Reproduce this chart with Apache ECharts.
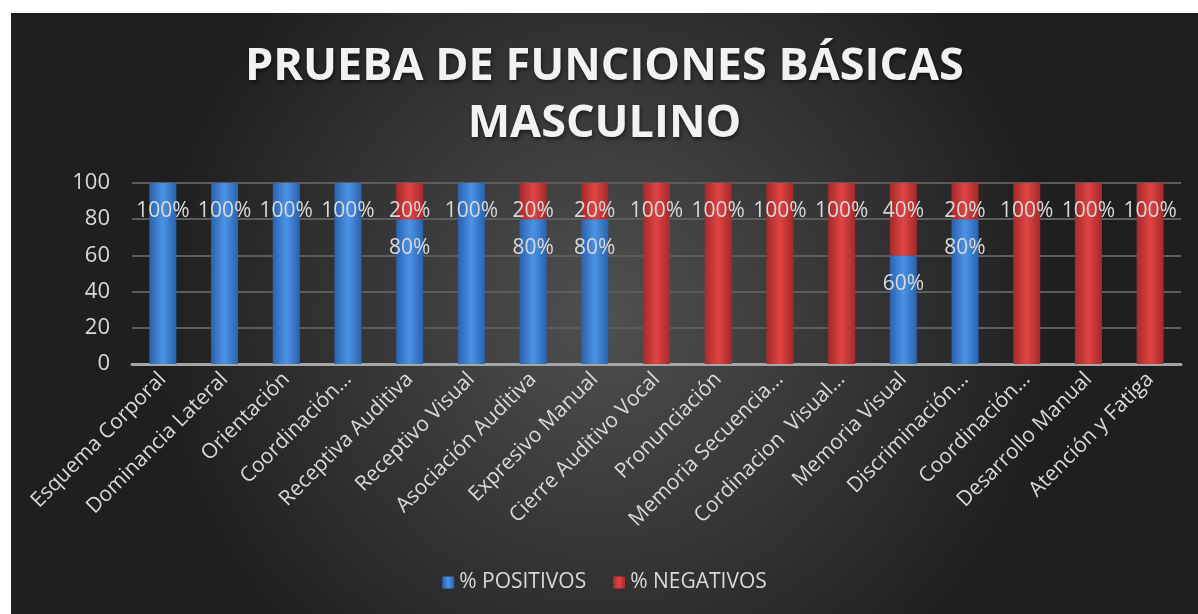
<!DOCTYPE html>
<html lang="es">
<head>
    <meta charset="UTF-8">
    <title>Prueba de funciones básicas</title>
    <script src="https://cdn.jsdelivr.net/npm/echarts@6/dist/echarts.min.js"></script>
    <style>
        body { margin: 0; background: #fff; }
        #main { position: absolute; left: 11px; top: 13px; width: 1187px; height: 601px; }
    </style>
</head>
<body>
<div id="main"></div>
<script type="text/javascript">

    var categorias = ['Esquema Corporal', 'Dominancia Lateral', 'Orientación', 'Coordinación…',
        'Receptiva Auditiva', 'Receptivo Visual', 'Asociación Auditiva', 'Expresivo Manual',
        'Cierre Auditivo Vocal', 'Pronunciación', 'Memoria Secuencia…', 'Cordinacion  Visual…',
        'Memoria Visual', 'Discriminación…', 'Coordinación…', 'Desarrollo Manual', 'Atención y Fatiga'];
    var positivos = [100, 100, 100, 100, 80, 100, 80, 80, 0, 0, 0, 0, 60, 80, 0, 0, 0];
    var negativos = [0, 0, 0, 0, 20, 0, 20, 20, 100, 100, 100, 100, 40, 20, 100, 100, 100];
    var ticksY = [0, 20, 40, 60, 80, 100];

    var fuente = '"Open Sans", sans-serif';

    function barra(c1, c2) {
        return new echarts.graphic.LinearGradient(0, 0, 1, 0, [
            {offset: 0, color: c1},
            {offset: 0.5, color: c2},
            {offset: 1, color: c1}
        ]);
    }

    function etiqueta(p) {
        return p.value ? p.value + '%' : '';
    }

    var myChart = echarts.init(document.getElementById('main'));
    var option = {
        backgroundColor: new echarts.graphic.RadialGradient(0.5, 0.5, 0.75, [
            {offset: 0, color: '#505050'},
            {offset: 1, color: '#1f1f1f'}
        ]),
        title: {
            text: 'PRUEBA DE FUNCIONES BÁSICAS\nMASCULINO',
            left: 'center',
            top: 21,
            textStyle: {
                color: '#f2f2f2',
                fontFamily: fuente,
                fontWeight: 'bold',
                fontSize: 45,
                lineHeight: 57,
                textShadowColor: 'rgba(0,0,0,0.6)',
                textShadowBlur: 4,
                textShadowOffsetX: 1,
                textShadowOffsetY: 2
            }
        },
        legend: {
            bottom: 16,
            left: 'center',
            itemWidth: 12,
            itemHeight: 12,
            itemGap: 27,
            icon: 'rect',
            textStyle: {color: '#d9d9d9', fontSize: 21, fontFamily: fuente},
            data: ['% POSITIVOS', '% NEGATIVOS']
        },
        grid: {left: 121, right: 17, top: 170, bottom: 250},
        xAxis: {
            type: 'category',
            data: categorias,
            axisLine: {lineStyle: {color: '#a6a6a6', width: 3}},
            axisTick: {show: false},
            axisLabel: {
                rotate: 45,
                interval: 0,
                color: '#d9d9d9',
                fontSize: 21,
                fontFamily: fuente,
                margin: 12
            }
        },
        yAxis: {
            type: 'value',
            min: ticksY[0],
            max: ticksY[ticksY.length - 1],
            interval: 20,
            axisLine: {show: false},
            axisTick: {show: false},
            splitLine: {lineStyle: {color: '#5c5c5c', width: 2}},
            axisLabel: {color: '#d9d9d9', fontSize: 22, fontFamily: fuente, margin: 22}
        },
        series: [
            {
                name: '% POSITIVOS',
                type: 'bar',
                stack: 'total',
                barWidth: 27,
                data: positivos,
                itemStyle: {color: barra('#2a62ae', '#4b93e6')},
                label: {
                    show: true,
                    position: 'insideTop',
                    distance: 18,
                    color: '#d9d9d9',
                    fontSize: 21,
                    fontFamily: fuente,
                    formatter: etiqueta
                }
            },
            {
                name: '% NEGATIVOS',
                type: 'bar',
                stack: 'total',
                barWidth: 27,
                data: negativos,
                itemStyle: {color: barra('#a42a2a', '#e04444')},
                label: {
                    show: true,
                    position: 'insideTop',
                    distance: 18,
                    color: '#d9d9d9',
                    fontSize: 21,
                    fontFamily: fuente,
                    formatter: etiqueta
                }
            }
        ]
    };
    myChart.setOption(option);

</script>
</body>
</html>
